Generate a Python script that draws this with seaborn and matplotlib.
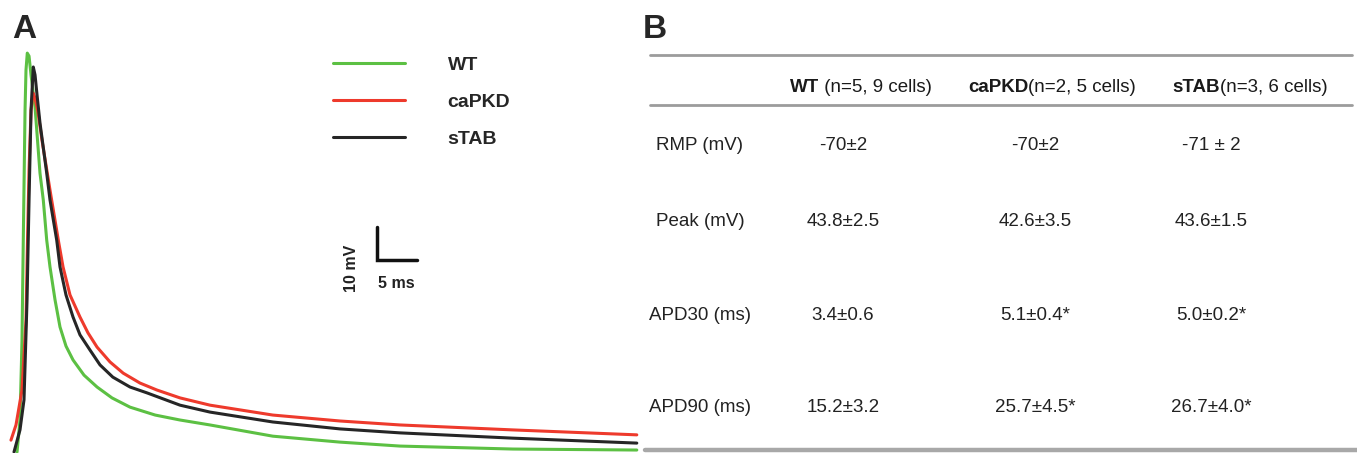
import numpy as np
import pandas as pd
import matplotlib
matplotlib.use("Agg")
import matplotlib.pyplot as plt
import seaborn as sns

# ----- traces (time in ms, voltage in mV) -----
WT_T = [0.63, 1.0, 1.25, 1.41, 1.63, 1.75, 1.91, 2.13, 2.38, 2.88, 3.5, 3.91, 4.34, 4.75,
        5.38, 6.0, 6.75, 7.63, 9.0, 10.63, 12.5, 14.75, 17.9, 21.0, 24.75, 32.6, 41.0,
        48.5, 62.6, 78.1]
WT_V = [-76.0, -66.3, -42.1, -11.8, 27.6, 39.8, 44.9, 44.0, 38.2, 28.5, 8.5, 0.4, -11.8,
        -19.9, -29.9, -38.1, -43.9, -48.1, -52.7, -56.3, -59.6, -62.4, -64.8, -66.3,
        -67.8, -71.2, -73.0, -74.2, -75.1, -75.4]

CAPKD_T = [-0.13, 0.5, 1.25, 1.75, 1.94, 2.13, 2.38, 2.63, 2.88, 3.25, 3.75, 4.75, 5.79,
           6.38, 7.25, 8.5, 9.5, 10.63, 12.25, 13.9, 16.0, 18.1, 21.0, 24.75, 32.6, 41.0,
           48.5, 62.6, 78.1]
CAPKD_V = [-72.4, -67.8, -57.2, -36.0, -11.8, 9.5, 27.6, 32.8, 31.3, 27.0, 18.5, 3.4,
           -11.8, -19.9, -28.4, -35.1, -39.9, -44.2, -48.7, -52.1, -55.1, -57.2, -59.6,
           -61.8, -64.8, -66.6, -67.8, -69.3, -70.8]

STAB_T = [0.25, 1.0, 1.5, 1.88, 2.13, 2.38, 2.66, 2.88, 3.13, 3.5, 4.34, 4.75, 5.59, 6.0,
          6.75, 7.63, 8.5, 9.75, 11.0, 12.6, 14.75, 16.9, 21.0, 24.75, 32.6, 41.0, 48.5,
          62.6, 78.1]
STAB_V = [-76.0, -69.3, -60.2, -29.9, 0.4, 27.6, 40.7, 38.3, 32.2, 23.7, 8.5, 0.4, -11.8,
          -19.9, -28.4, -35.1, -40.5, -45.1, -49.6, -53.3, -56.3, -58.1, -61.8, -63.9,
          -66.9, -69.0, -70.2, -71.8, -73.3]

GROUPS = ["WT", "caPKD", "sTAB"]
COLORS = {"WT": "#5cc043", "caPKD": "#ee3a2c", "sTAB": "#262626"}
SCALE_MV = 10
SCALE_MS = 5

# ----- table (panel B) -----
COL_BOLD = ["WT", "caPKD", "sTAB"]
COL_REST = [" (n=5, 9 cells)", "(n=2, 5 cells)", "(n=3, 6 cells)"]
ROW_LABELS = ["RMP (mV)", "Peak (mV)", "APD30 (ms)", "APD90 (ms)"]
WT_VALS = ["-70±2", "43.8±2.5", "3.4±0.6", "15.2±3.2"]
CAPKD_VALS = ["-70±2", "42.6±3.5", "5.1±0.4*", "25.7±4.5*"]
STAB_VALS = ["-71 ± 2", "43.6±1.5", "5.0±0.2*", "26.7±4.0*"]

sns.set_style("white")
plt.rcParams["font.family"] = ["Liberation Sans", "DejaVu Sans"]

df = pd.concat([
    pd.DataFrame({"t": WT_T, "v": WT_V, "group": "WT"}),
    pd.DataFrame({"t": CAPKD_T, "v": CAPKD_V, "group": "caPKD"}),
    pd.DataFrame({"t": STAB_T, "v": STAB_V, "group": "sTAB"}),
])

W, H = 1357, 453
fig = plt.figure(figsize=(W / 100, H / 100), dpi=100)

# ---------------- panel A ----------------
axA = fig.add_axes([0, 0, 640 / W, 1])
sns.lineplot(data=df, x="t", y="v", hue="group", hue_order=GROUPS,
             palette=COLORS, sort=False, estimator=None, linewidth=2.2,
             legend=False, ax=axA)
for ln in axA.lines:
    ln.set_solid_joinstyle("round")
axA.set_xlim(-1.5, 78.5)
axA.set_ylim(-76.3, 61.0)
axA.axis("off")

handles = [plt.Line2D([], [], color=COLORS[g], lw=2.2) for g in GROUPS]
axA.legend(handles, GROUPS, loc="upper left", frameon=False,
           bbox_to_anchor=(333 / W, 1 - 56 / H), bbox_transform=fig.transFigure,
           borderpad=0, borderaxespad=0, handlelength=3.7, handletextpad=2.2,
           labelspacing=1.0, prop={"weight": "bold", "size": 14})

# scale bar
x0, y0 = 45.6, -17.8
axA.plot([x0, x0, x0 + SCALE_MS], [y0 + SCALE_MV, y0, y0], color="#111111",
         lw=2.5, solid_joinstyle="miter")
axA.text(x0 + SCALE_MS / 2, y0 - 5.0, f"{SCALE_MS} ms", ha="center", va="top",
         fontsize=11.5, fontweight="bold", color="#222222")
axA.text(x0 - 3.1, y0 - 2.4, f"{SCALE_MV} mV", ha="center",
         va="center", rotation=90, fontsize=11.5, fontweight="bold",
         color="#222222")

fig.text(12 / W, 1 - 30 / H, "A", fontsize=24, fontweight="bold", va="center")

# ---------------- panel B ----------------
axB = fig.add_axes([640 / W, 0, 717 / W, 1])
axB.set_xlim(640, 1357)
axB.set_ylim(453, 0)
axB.axis("off")

fig.text(643 / W, 1 - 30 / H, "B", fontsize=24, fontweight="bold", va="center")

axB.plot([650, 1352], [55, 55], color="#9c9c9c", lw=2.0)
axB.plot([650, 1352], [105, 105], color="#9c9c9c", lw=2.0)
axB.plot([645, 1357], [450, 450], color="#a8a8a8", lw=3.2)

FS = 13.5
head_x = [790, 968, 1172]
for x, b, r in zip(head_x, COL_BOLD, COL_REST):
    tb = axB.text(x, 87, b, fontweight="bold", fontsize=FS, ha="left",
                  va="center", color="#1a1a1a")
    axB.annotate(r, xy=(1, 0), xycoords=tb, ha="left", va="bottom",
                 fontsize=FS, color="#1a1a1a")

row_y = [145, 222, 315, 408]
for y, lab in zip(row_y, ROW_LABELS):
    axB.text(700, y, lab, ha="center", va="center", fontsize=FS,
             color="#222222")

col_x = [843, 1035, 1211]
for x, vals in zip(col_x, [WT_VALS, CAPKD_VALS, STAB_VALS]):
    for y, v in zip(row_y, vals):
        axB.text(x, y, v, ha="center", va="center", fontsize=FS,
                 color="#222222")

fig.savefig("out.png", dpi=100)
